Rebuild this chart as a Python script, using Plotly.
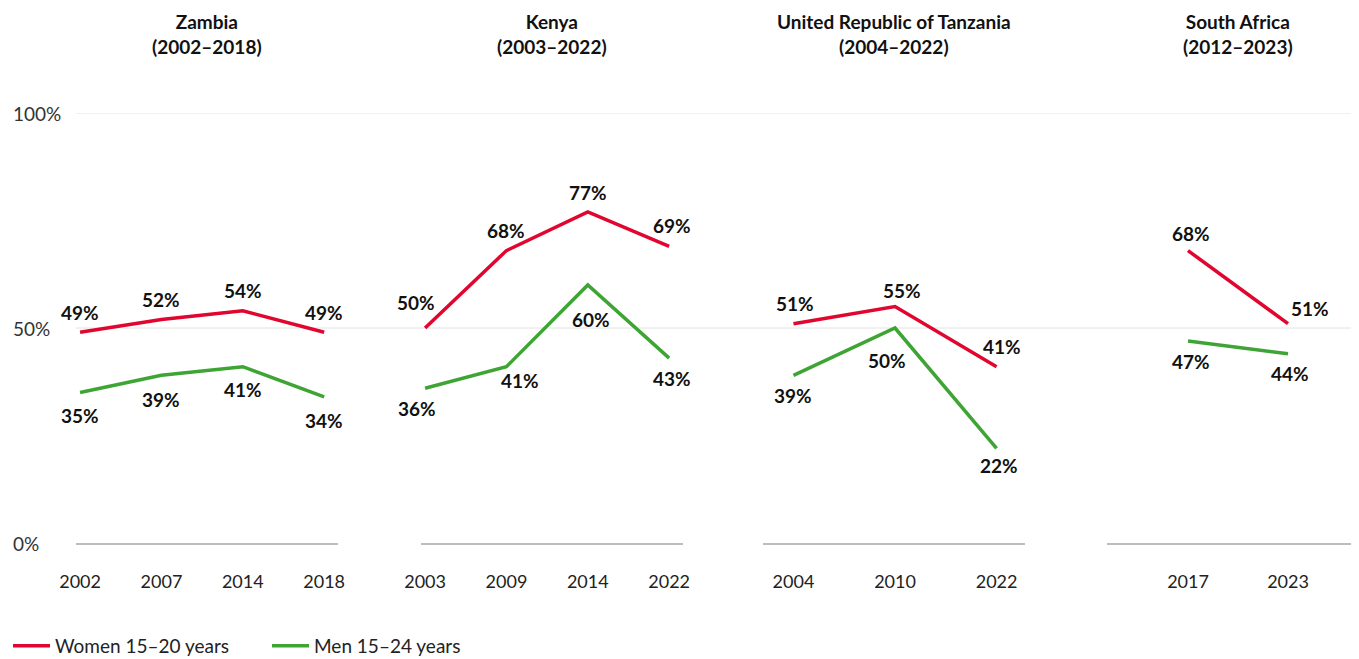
import plotly.graph_objects as go

# ---------------- data ----------------
countries = ["Zambia", "Kenya", "United Republic of Tanzania", "South Africa"]
periods = ["(2002–2018)", "(2003–2022)", "(2004–2022)", "(2012–2023)"]

years_zambia = ["2002", "2007", "2014", "2018"]
women_zambia = [49, 52, 54, 49]
men_zambia = [35, 39, 41, 34]

years_kenya = ["2003", "2009", "2014", "2022"]
women_kenya = [50, 68, 77, 69]
men_kenya = [36, 41, 60, 43]

years_tanzania = ["2004", "2010", "2022"]
women_tanzania = [51, 55, 41]
men_tanzania = [39, 50, 22]

years_sa = ["2017", "2023"]
women_sa = [68, 51]
men_sa = [47, 44]

series_names = ["Women 15–20 years", "Men 15–24 years"]
y_ticks = [0, 50, 100]

# ---------------- styling / layout ----------------
W, H = 1359, 659
OFF = 8  # page body margin: figure is drawn 8px right/down in the window
# plot area in window pixels
PL, PR, PT, PB = 76, 1359, 113, 543
ML = PL - OFF
MR = W - (PR - OFF)
MT = PT - OFF
MB = H - (PB - OFF)
PW = PR - PL
PH = PB - PT
RED = "#e0062f"
GREEN = "#3ea535"
FONT = "Lato"

def fx(px):  # window px -> paper fraction
    return (px - PL) / PW

def fy(py):
    return (PB - py) / PH

panels_px = [(76, 338), (421, 683), (763, 1025), (1107, 1359)]
title_px = [207, 552, 894, 1238]
x_ranges = [[-0.05, 3.17], [-0.05, 3.17], [-0.3, 2.28], [-0.81, 1.71]]

# label offsets (xshift, yshift) in px per panel: women, men
women_off = [
    [(0, 20), (0, 20), (0, 20), (0, 20)],
    [(-9, 26), (0, 20), (0, 19), (3, 21)],
    [(2, 20), (7, 16), (5, 20)],
    [(3, 17), (22, 15)],
]
men_off = [
    [(0, -23), (0, -24), (0, -23), (0, -24)],
    [(-8, -20), (14, -14), (3, -34), (3, -20)],
    [(0, -20), (-8, -32), (2, -17)],
    [(3, -21), (2, -20)],
]

years_all = [years_zambia, years_kenya, years_tanzania, years_sa]
women_all = [women_zambia, women_kenya, women_tanzania, women_sa]
men_all = [men_zambia, men_kenya, men_tanzania, men_sa]

fig = go.Figure()
annotations = []
shapes = []

for i in range(4):
    xa = "x" if i == 0 else f"x{i+1}"
    for name, vals, col, offs in [
        (series_names[0], women_all[i], RED, women_off[i]),
        (series_names[1], men_all[i], GREEN, men_off[i]),
    ]:
        fig.add_trace(go.Scatter(
            x=years_all[i], y=vals, mode="lines", name=name,
            line=dict(color=col, width=3.5),
            xaxis=xa, yaxis="y", showlegend=(i == 0),
            hoverinfo="skip",
        ))
        for j, (v, (dx, dy)) in enumerate(zip(vals, offs)):
            annotations.append(dict(
                x=j, y=v, xref=xa, yref="y", text=f"<b>{v}%</b>",
                showarrow=False, xshift=dx, yshift=dy,
                font=dict(family=FONT, size=19, color="#111111"),
            ))
    l, r = panels_px[i]
    fig.layout[("xaxis" if i == 0 else f"xaxis{i+1}")] = dict(
        domain=[fx(l), min(fx(r), 1.0)], type="category",
        range=x_ranges[i], anchor="y",
        showline=True, linecolor="#bdbdbd", linewidth=1.5,
        showgrid=False, zeroline=False, ticks="",
        ticklabelstandoff=22,
        tickfont=dict(family=FONT, size=18, color="#222222"),
        fixedrange=True,
    )
    annotations.append(dict(
        x=fx(title_px[i]), y=fy(33.5), xref="paper", yref="paper",
        text=f"<b>{countries[i]}</b><br><b>{periods[i]}</b>",
        showarrow=False, xanchor="center", yanchor="middle",
        font=dict(family=FONT, size=19, color="#111111"),
    ))

# y tick labels
for t in y_ticks:
    annotations.append(dict(
        x=fx(11), y=t, xref="paper", yref="y", text=f"{t}%",
        showarrow=False, xanchor="left", yanchor="middle",
        font=dict(family=FONT, size=19, color="#333333"),
    ))
# gridlines
for t in y_ticks[1:]:
    shapes.append(dict(type="line", xref="paper", yref="y",
                       x0=0, x1=1, y0=t, y1=t,
                       line=dict(color="#e2e2e2", width=1), layer="below"))

fig.update_layout(
    width=W, height=H,
    margin=dict(l=ML, r=MR, t=MT, b=MB, autoexpand=False),
    paper_bgcolor="white", plot_bgcolor="white",
    yaxis=dict(range=[0, 100], showgrid=False, zeroline=False,
               showticklabels=False, ticks="", fixedrange=True),
    annotations=annotations, shapes=shapes,
    legend=dict(orientation="h", x=fx(8), y=fy(646), xanchor="left",
                yanchor="middle", entrywidth=207, entrywidthmode="pixels",
                itemwidth=37,
                font=dict(family=FONT, size=19, color="#222222"),
                bgcolor="rgba(0,0,0,0)"),
    font=dict(family=FONT),
)

fig.write_html("out.html")
